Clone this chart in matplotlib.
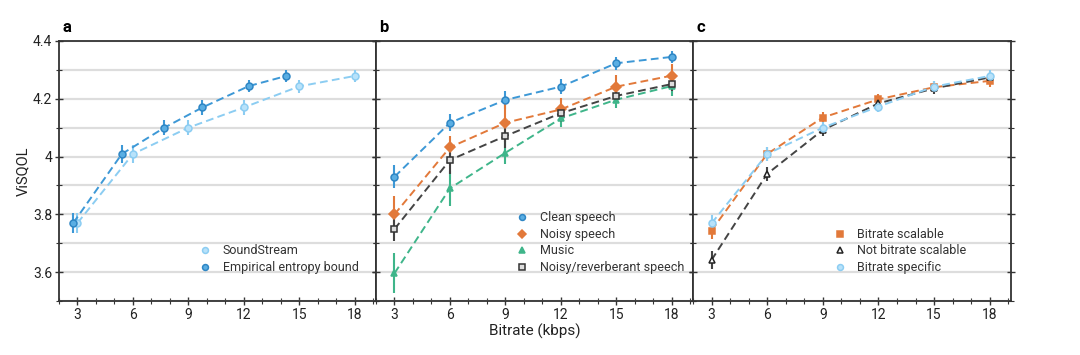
import matplotlib
matplotlib.use("Agg")
import matplotlib.pyplot as plt
from matplotlib.ticker import MultipleLocator, FixedLocator

plt.rcParams['font.family'] = ['Roboto', 'DejaVu Sans']

# panel a
a_ss_x = [3, 6, 9, 12, 15, 18]
a_ss_y = [3.77, 4.009, 4.10, 4.17, 4.243, 4.279]
a_ss_err = [0.035, 0.03, 0.025, 0.025, 0.022, 0.022]
a_eb_x = [2.77, 5.4, 7.7, 9.76, 12.27, 14.3]
a_eb_y = [3.77, 4.009, 4.10, 4.17, 4.244, 4.279]
a_eb_err = [0.035, 0.03, 0.025, 0.025, 0.022, 0.022]

# panel b
bitrates = [3, 6, 9, 12, 15, 18]
b_clean = [3.93, 4.117, 4.196, 4.242, 4.323, 4.345]
b_clean_err = [0.04, 0.03, 0.03, 0.025, 0.022, 0.022]
b_noisy = [3.80, 4.032, 4.117, 4.163, 4.242, 4.28]
b_noisy_err = [0.065, 0.04, 0.065, 0.04, 0.04, 0.04]
b_music = [3.596, 3.89, 4.013, 4.132, 4.197, 4.244]
b_music_err = [0.07, 0.06, 0.04, 0.03, 0.03, 0.035]
b_reverb = [3.749, 3.988, 4.071, 4.15, 4.21, 4.251]
b_reverb_err = [0.04, 0.05, 0.04, 0.03, 0.025, 0.025]

# panel c
c_scal = [3.744, 4.009, 4.135, 4.198, 4.24, 4.262]
c_scal_err = [0.03, 0.025, 0.02, 0.02, 0.02, 0.02]
c_notscal = [3.642, 3.94, 4.092, 4.184, 4.236, 4.274]
c_notscal_err = [0.03, 0.025, 0.02, 0.02, 0.02, 0.02]
c_spec = [3.769, 4.009, 4.10, 4.173, 4.242, 4.279]
c_spec_err = [0.03, 0.025, 0.02, 0.02, 0.02, 0.02]

LIGHT = '#8ccdf2'
BLUE = '#3d98d6'
ORANGE = '#e2793a'
GREEN = '#3fb58a'
GRAY = '#444444'

fig = plt.figure(figsize=(10.8, 3.55), dpi=100)
W, H = 1080, 355
top, bottom = 41, 301
edges = [59, 376, 693, 1011]
axes = []
for i in range(3):
    ax = fig.add_axes([edges[i] / W, 1 - bottom / H, (edges[i + 1] - edges[i]) / W, (bottom - top) / H])
    axes.append(ax)


def series(ax, x, y, err, color, marker, face, edge, label, ms=5):
    ax.errorbar(x, y, yerr=err, color=color, ls=(0, (4, 2.2)), lw=1.4, elinewidth=1.5,
                capsize=0, marker=marker, ms=ms, mfc=face, mec=edge, mew=1.1, label=label, zorder=3)


def style(ax, letter, first=False):
    ax.set_ylim(3.5, 4.4)
    ax.set_xlim(2.0, 19.15)
    ax.yaxis.set_major_locator(FixedLocator([3.6, 3.8, 4.0, 4.2, 4.4]))
    ax.yaxis.set_minor_locator(MultipleLocator(0.1))
    ax.xaxis.set_major_locator(FixedLocator(bitrates))
    ax.xaxis.set_minor_locator(MultipleLocator(1))
    ax.grid(True, axis='y', which='both', color='#dddddd', lw=1.6, zorder=0)
    ax.set_axisbelow(True)
    for s in ax.spines.values():
        s.set_color('#333333')
        s.set_linewidth(1.3)
    ax.tick_params(which='both', direction='inout', color='#333333', right=True, labelsize=10,
                   labelcolor='#222222')
    ax.tick_params(which='major', length=6, width=1, pad=2)
    ax.tick_params(which='minor', length=4, width=0.8)
    if first:
        ax.set_yticklabels(['3.6', '3.8', '4', '4.2', '4.4'])
        ax.set_ylabel('ViSQOL', fontsize=10.5, color='#222222', labelpad=2)
    else:
        ax.tick_params(axis='y', labelleft=False)
    ax.text(0.01, 1.025, letter, transform=ax.transAxes, fontsize=12, fontweight='bold',
            va='bottom', ha='left')


ax = axes[0]
series(ax, a_ss_x, a_ss_y, a_ss_err, LIGHT, 'o', '#b8e2fa', LIGHT, 'SoundStream')
series(ax, a_eb_x, a_eb_y, a_eb_err, BLUE, 'o', '#5aaee3', '#2f86c4', 'Empirical entropy bound')
style(ax, 'a', first=True)

ax = axes[1]
series(ax, bitrates, b_clean, b_clean_err, BLUE, 'o', '#5aaee3', '#2f86c4', 'Clean speech')
series(ax, bitrates, b_noisy, b_noisy_err, ORANGE, 'D', ORANGE, ORANGE, 'Noisy speech', ms=4.8)
series(ax, bitrates, b_music, b_music_err, GREEN, '^', GREEN, GREEN, 'Music')
series(ax, bitrates, b_reverb, b_reverb_err, GRAY, 's', '#dddddd', '#333333', 'Noisy/reverberant speech')
style(ax, 'b')
ax.set_xlabel('Bitrate (kbps)', fontsize=11, color='#222222', labelpad=1)

ax = axes[2]
series(ax, bitrates, c_scal, c_scal_err, ORANGE, 's', ORANGE, ORANGE, 'Bitrate scalable')
series(ax, bitrates, c_notscal, c_notscal_err, GRAY, '^', '#ffffff', '#222222', 'Not bitrate scalable')
series(ax, bitrates, c_spec, c_spec_err, LIGHT, 'o', '#b8e2fa', LIGHT, 'Bitrate specific')
style(ax, 'c')

for ax in axes:
    handles, labels = ax.get_legend_handles_labels()
    handles = [h[0] for h in handles]
    leg = ax.legend(handles, labels, loc='lower left', bbox_to_anchor=(0.43, 0.085), frameon=False,
                    fontsize=9, handlelength=0.8, handletextpad=1.0, labelspacing=0.28,
                    markerscale=0.85, borderaxespad=0)
    for line in leg.get_lines():
        line.set_linestyle('none')
    for t in leg.get_texts():
        t.set_color('#333333')

fig.savefig('out.png', dpi=100)
